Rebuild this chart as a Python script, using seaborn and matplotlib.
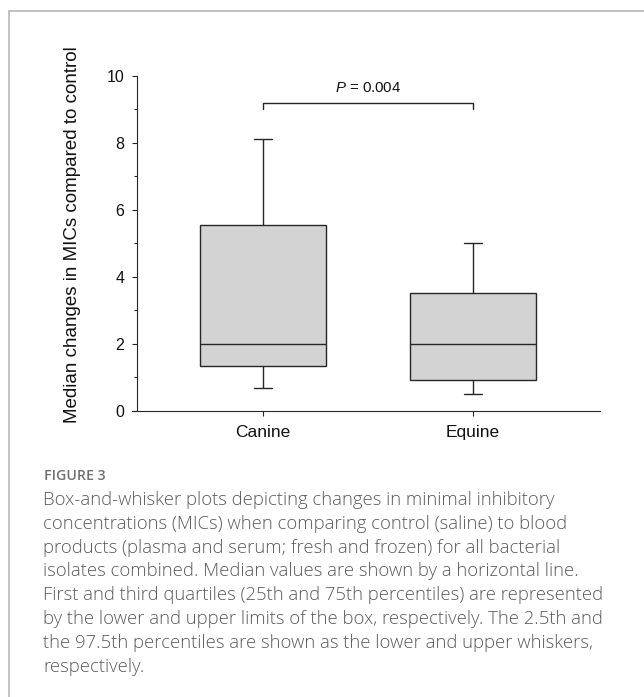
import numpy as np
import pandas as pd
import matplotlib
matplotlib.use("Agg")
import matplotlib.pyplot as plt
import seaborn as sns
from matplotlib.ticker import MultipleLocator
from matplotlib.lines import Line2D

# box summary (whiskers = 2.5th / 97.5th percentiles)
groups = ["Canine", "Equine"]
whisker_low = [0.68, 0.50]
q1 = [1.33, 0.92]
median = [2.0, 2.0]
q3 = [5.54, 3.51]
whisker_high = [8.1, 5.0]

p_label = "$P$ = 0.004"
bracket_y = 9.2
bracket_drop = 0.2
p_text_y = 9.63

ylabel = "Median changes in MICs compared to control"
fig_tag = "FIGURE 3"
caption_lines = [
    "Box-and-whisker plots depicting changes in minimal inhibitory",
    "concentrations (MICs) when comparing control (saline) to blood",
    "products (plasma and serum; fresh and frozen) for all bacterial",
    "isolates combined. Median values are shown by a horizontal line.",
    "First and third quartiles (25th and 75th percentiles) are represented",
    "by the lower and upper limits of the box, respectively. The 2.5th and",
    "the 97.5th percentiles are shown as the lower and upper whiskers,",
    "respectively.",
]

# five points per group -> min/q1/median/q3/max with whis=(0, 100)
rows = []
for i, g in enumerate(groups):
    for v in [whisker_low[i], q1[i], median[i], q3[i], whisker_high[i]]:
        rows.append({"group": g, "value": v})
df = pd.DataFrame(rows)

sns.set_style("ticks")
plt.rcParams["font.family"] = ["Liberation Sans", "DejaVu Sans"]
plt.rcParams["mathtext.fontset"] = "custom"
plt.rcParams["mathtext.rm"] = "Liberation Sans"
plt.rcParams["mathtext.it"] = "Liberation Sans:italic"

W, H = 644, 697
fig = plt.figure(figsize=(W / 100, H / 100), dpi=100)
ax = fig.add_axes([137 / W, 1 - 410.7 / H, (600 - 137) / W, (410.7 - 75.7) / H])

dark = "#262626"
sns.boxplot(data=df, x="group", y="value", order=groups, whis=(0, 100),
            width=0.6, color="#d3d3d3", saturation=1, linecolor=dark,
            linewidth=1.0, showfliers=False, capwidths=0.09, ax=ax)

ax.set_xlim(-0.6, 1.605)
ax.set_ylim(0, 10)
ax.yaxis.set_major_locator(MultipleLocator(2))
ax.yaxis.set_minor_locator(MultipleLocator(1))
ax.tick_params(axis="y", which="major", length=3.6, width=0.8, color=dark,
               labelsize=11.5, pad=5.5, labelcolor="#111111")
ax.tick_params(axis="y", which="minor", length=2.2, width=0.8, color=dark)
ax.tick_params(axis="x", length=3.6, width=0.8, color=dark, labelsize=12.5,
               pad=6.5, labelcolor="#111111")
for s in ["top", "right"]:
    ax.spines[s].set_visible(False)
for s in ["left", "bottom"]:
    ax.spines[s].set_color(dark)
    ax.spines[s].set_linewidth(0.8)
ax.spines["bottom"].set_bounds(-0.6 - 5 / 210, 1.605)

ax.set_xlabel("")
ax.set_ylabel(ylabel, fontsize=13.5, color="#111111")
ax.yaxis.set_label_coords(-0.121, 0.527)

# significance bracket
ax.plot([0, 0, 1, 1], [bracket_y - bracket_drop, bracket_y, bracket_y, bracket_y - bracket_drop],
        color=dark, lw=1.0, clip_on=False)
ax.text(0.5, p_text_y, p_label, ha="center", va="center", fontsize=10.8, color="#111111")

# frame lines of the figure panel
fig.add_artist(Line2D([9 / W, 1], [1 - 11 / H, 1 - 11 / H], color="#b8b8b8", lw=1.2))
fig.add_artist(Line2D([9 / W, 9 / W], [0, 1 - 11 / H], color="#b8b8b8", lw=1.2))

# caption
fig.text(44 / W, 1 - 476 / H, fig_tag, fontsize=10.2, color="#707070",
         family=["Open Sans", "DejaVu Sans"], weight="semibold", va="center")
for i, line in enumerate(caption_lines):
    fig.text(43 / W, 1 - (500 + i * 23.8) / H, line, fontsize=13.3, color="#5a5a5a",
             family=["Open Sans", "DejaVu Sans"], weight="light", va="center")

fig.savefig("out.png", dpi=100)
